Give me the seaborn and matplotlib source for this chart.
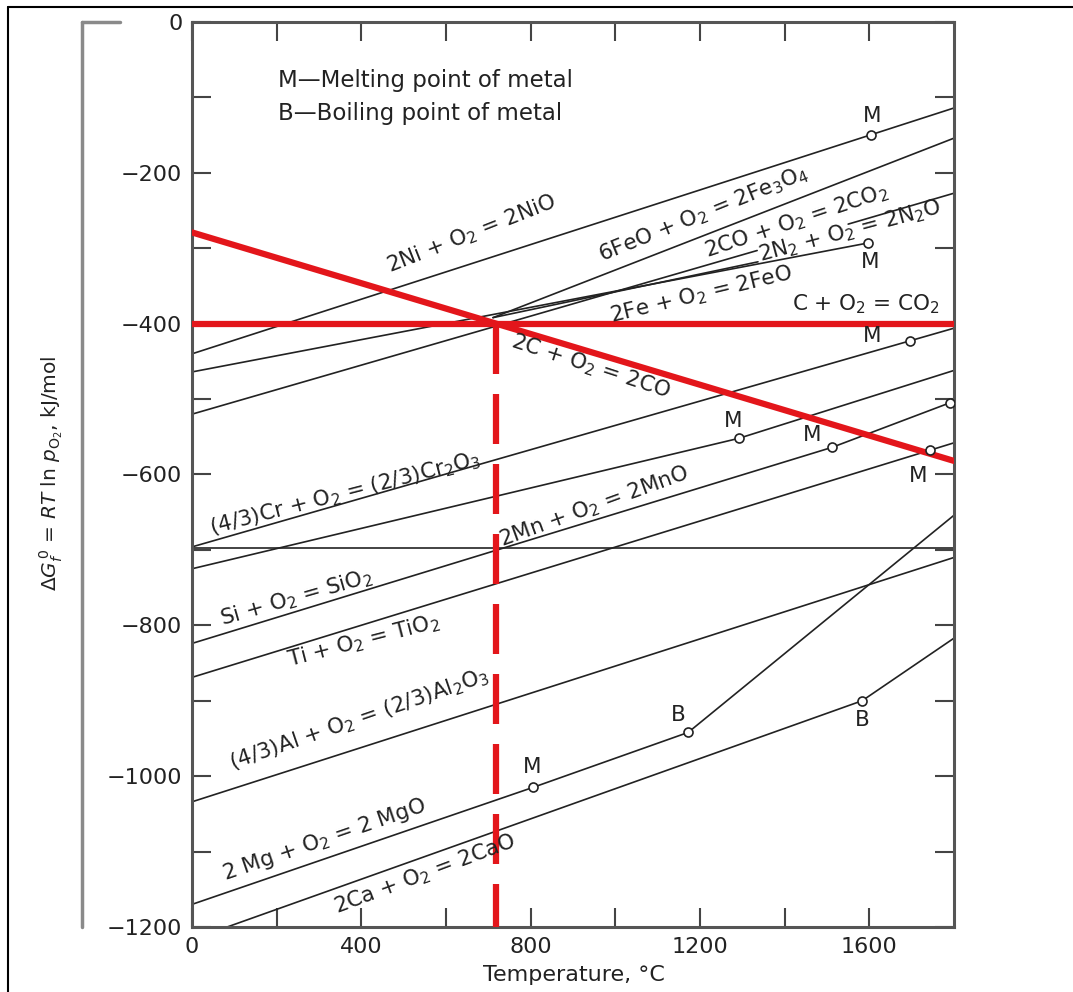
import numpy as np
import matplotlib
matplotlib.use('Agg')
import matplotlib.pyplot as plt
from matplotlib.lines import Line2D
import seaborn as sns

# Ellingham diagram (T in degC, dG in kJ/mol)
ni_T = [0, 1800]
ni_G = [-440, -114]
fe_T = [0, 1597]
fe_G = [-464, -293]
co2_T = [0, 1335]
co2_G = [-520, -303]
co2b_T = [1550, 1800]
co2b_G = [-268, -227]
fe3o4_T = [711, 1800]
fe3o4_G = [-392, -154]
feo_T = [711, 1337]
feo_G = [-392, -318]
cr_T = [0, 1800]
cr_G = [-696, -406]
flat_T = [0, 1800]
flat_G = [-697, -697]
mn_T = [0, 1292, 1800]
mn_G = [-725, -552, -462]
si_T = [0, 1512, 1790]
si_G = [-824, -564, -505]
ti_T = [0, 1800]
ti_G = [-869, -558]
al_T = [0, 1800]
al_G = [-1034, -710]
mg_T = [0, 805, 1172, 1800]
mg_G = [-1170, -1015, -942, -654]
ca_T = [83, 1583, 1800]
ca_G = [-1200, -900, -817]

# red overlay: 2C + O2 = 2CO and C + O2 = CO2
co_T = [0, 1800]
co_G = [-279, -582]
c_co2_T = [0, 1800]
c_co2_G = [-400, -400]

# melting / boiling points: (temperature, which line)
melt_points = {'ni': 1605, 'fe': 1597, 'cr': 1696, 'mn': 1292,
               'si': 1512, 'ti': 1743, 'mg': 805}
boil_points = {'mg': 1172, 'ca': 1583}
extra_points = {'si': 1790}

lines = {'ni': (ni_T, ni_G), 'fe': (fe_T, fe_G), 'co2': (co2_T, co2_G),
         'co2b': (co2b_T, co2b_G), 'fe3o4': (fe3o4_T, fe3o4_G),
         'feo': (feo_T, feo_G), 'cr': (cr_T, cr_G), 'flat': (flat_T, flat_G),
         'mn': (mn_T, mn_G), 'si': (si_T, si_G), 'ti': (ti_T, ti_G),
         'al': (al_T, al_G), 'mg': (mg_T, mg_G), 'ca': (ca_T, ca_G)}

sns.set_style('ticks')
plt.rcParams['font.family'] = ['DejaVu Sans']
plt.rcParams['mathtext.default'] = 'regular'
plt.rcParams['axes.unicode_minus'] = True

W, H = 1073, 992
fig = plt.figure(figsize=(W / 100, H / 100), dpi=100)
ax = fig.add_axes([192 / W, 1 - 927 / H, (954 - 192) / W, (927 - 22) / H])

black = '#222222'
red = '#e3161b'
fs = 15.5

for key, (tt, gg) in lines.items():
    sns.lineplot(x=tt, y=gg, ax=ax, color=black, linewidth=1.2,
                 sort=False, estimator=None, zorder=2)

sns.lineplot(x=co_T, y=co_G, ax=ax, color=red, linewidth=4.5,
             sort=False, estimator=None, zorder=3)
sns.lineplot(x=c_co2_T, y=c_co2_G, ax=ax, color=red, linewidth=4.5,
             sort=False, estimator=None, zorder=3)

# intersection of the two red lines, dropped to the axis
slope = (co_G[1] - co_G[0]) / (co_T[1] - co_T[0])
t_cross = co_T[0] + (c_co2_G[0] - co_G[0]) / slope
sns.lineplot(x=[t_cross, t_cross], y=[c_co2_G[0], -1200], ax=ax, color=red,
             linewidth=4.5, sort=False, estimator=None, zorder=3)
ax.lines[-1].set_dashes([8, 3.2])
ax.lines[-1].set_solid_capstyle('butt')

# circles
pt_T, pt_G = [], []
for d in (melt_points, boil_points, extra_points):
    for key, t in d.items():
        tt, gg = lines[key]
        pt_T.append(t)
        pt_G.append(np.interp(t, tt, gg))
sns.scatterplot(x=pt_T, y=pt_G, ax=ax, marker='o', s=42, facecolor='white',
                edgecolor=black, linewidth=1.2, zorder=4, legend=False)

# M / B labels (offsets in pixels)
mark_labels = [('M', 'ni', 1605, (1, 19)), ('M', 'fe', 1597, (2, -19)),
               ('M', 'cr', 1696, (-38, 5)), ('M', 'mn', 1292, (-6, 17)),
               ('M', 'si', 1512, (-20, 12)), ('M', 'ti', 1743, (-12, -26)),
               ('M', 'mg', 805, (-1, 20)), ('B', 'mg', 1172, (-10, 17)),
               ('B', 'ca', 1583, (0, -19))]
for s, key, t, off in mark_labels:
    tt, gg = lines[key]
    ax.annotate(s, (t, np.interp(t, tt, gg)), xytext=off,
                textcoords='offset pixels', ha='center', va='center',
                fontsize=fs, color=black, zorder=5)

# reaction labels: text, T, G, angle
reactions = [
    ('2Ni + O$_2$ = 2NiO', 468, -332, 21.5),
    ('6FeO + O$_2$ = 2Fe$_3$O$_4$', 968, -318, 22),
    ('2CO + O$_2$ = 2CO$_2$', 1216, -313, 18.5),
    ('2N$_2$ + O$_2$ = 2N$_2$O', 1342, -318, 15),
    ('2Fe + O$_2$ = 2FeO', 992, -398, 13.5),
    ('C + O$_2$ = CO$_2$', 1417, -382, 0),
    ('2C + O$_2$ = 2CO', 751, -430, -18),
    ('(4/3)Cr + O$_2$ = (2/3)Cr$_2$O$_3$', 47, -680, 14.5),
    ('2Mn + O$_2$ = 2MnO', 733, -696, 20),
    ('Si + O$_2$ = SiO$_2$', 73, -800, 16),
    ('Ti + O$_2$ = TiO$_2$', 231, -855, 14.5),
    ('(4/3)Al + O$_2$ = (2/3)Al$_2$O$_3$', 94, -992, 19),
    ('2 Mg + O$_2$ = 2 MgO', 78, -1138, 19),
    ('2Ca + O$_2$ = 2CaO', 343, -1182, 20.5),
]
for s, t, g, ang in reactions:
    ax.text(t, g, s, rotation=ang, rotation_mode='anchor', ha='left',
            va='baseline', fontsize=fs, color=black, zorder=5)

ax.text(203, -77, 'M\u2014Melting point of metal', fontsize=16.5, color=black,
        va='center', ha='left')
ax.text(203, -121, 'B\u2014Boiling point of metal', fontsize=16.5, color=black,
        va='center', ha='left')

ax.set_xlim(0, 1800)
ax.set_ylim(-1200, 0)
ax.set_xticks([0, 400, 800, 1200, 1600])
ax.set_xticks([200, 600, 1000, 1400], minor=True)
ax.set_yticks(np.arange(-1200, 1, 200))
ax.set_yticks(np.arange(-1100, 0, 200), minor=True)
ax.set_xlabel('')
ax.set_ylabel('')
ax.tick_params(which='both', direction='in', length=14, width=1.5,
               color='#444444', top=True, right=True, labelsize=16,
               labelcolor=black, pad=7)
for sp in ax.spines.values():
    sp.set_visible(True)
    sp.set_color('#555555')
    sp.set_linewidth(2.2)

fig.text(574 / W, 1 - 975 / H, 'Temperature, \u00b0C', ha='center', va='center',
         fontsize=16, color=black)
fig.text(51 / W, 1 - 473 / H,
         r'$\Delta\mathit{G}^{\,0}_{\mathit{f}}$ = $\mathit{RT}$ ln $\mathit{p}_{O_2}$, kJ/mol',
         rotation=90, ha='center', va='center', fontsize=14.5, color=black)

# grey bracket left of the axis and outer frame of the scan
fig.add_artist(Line2D([82 / W, 82 / W], [1 - 22 / H, 1 - 927 / H],
                      color='#8a8a8a', lw=2.5))
fig.add_artist(Line2D([82 / W, 120 / W], [1 - 22 / H, 1 - 22 / H],
                      color='#8a8a8a', lw=2.5))
fig.add_artist(Line2D([8 / W, 1], [1 - 7 / H, 1 - 7 / H], color='black', lw=1.5))
fig.add_artist(Line2D([8 / W, 8 / W], [1 - 7 / H, 0], color='black', lw=1.5))

fig.savefig('out.png', dpi=100)
